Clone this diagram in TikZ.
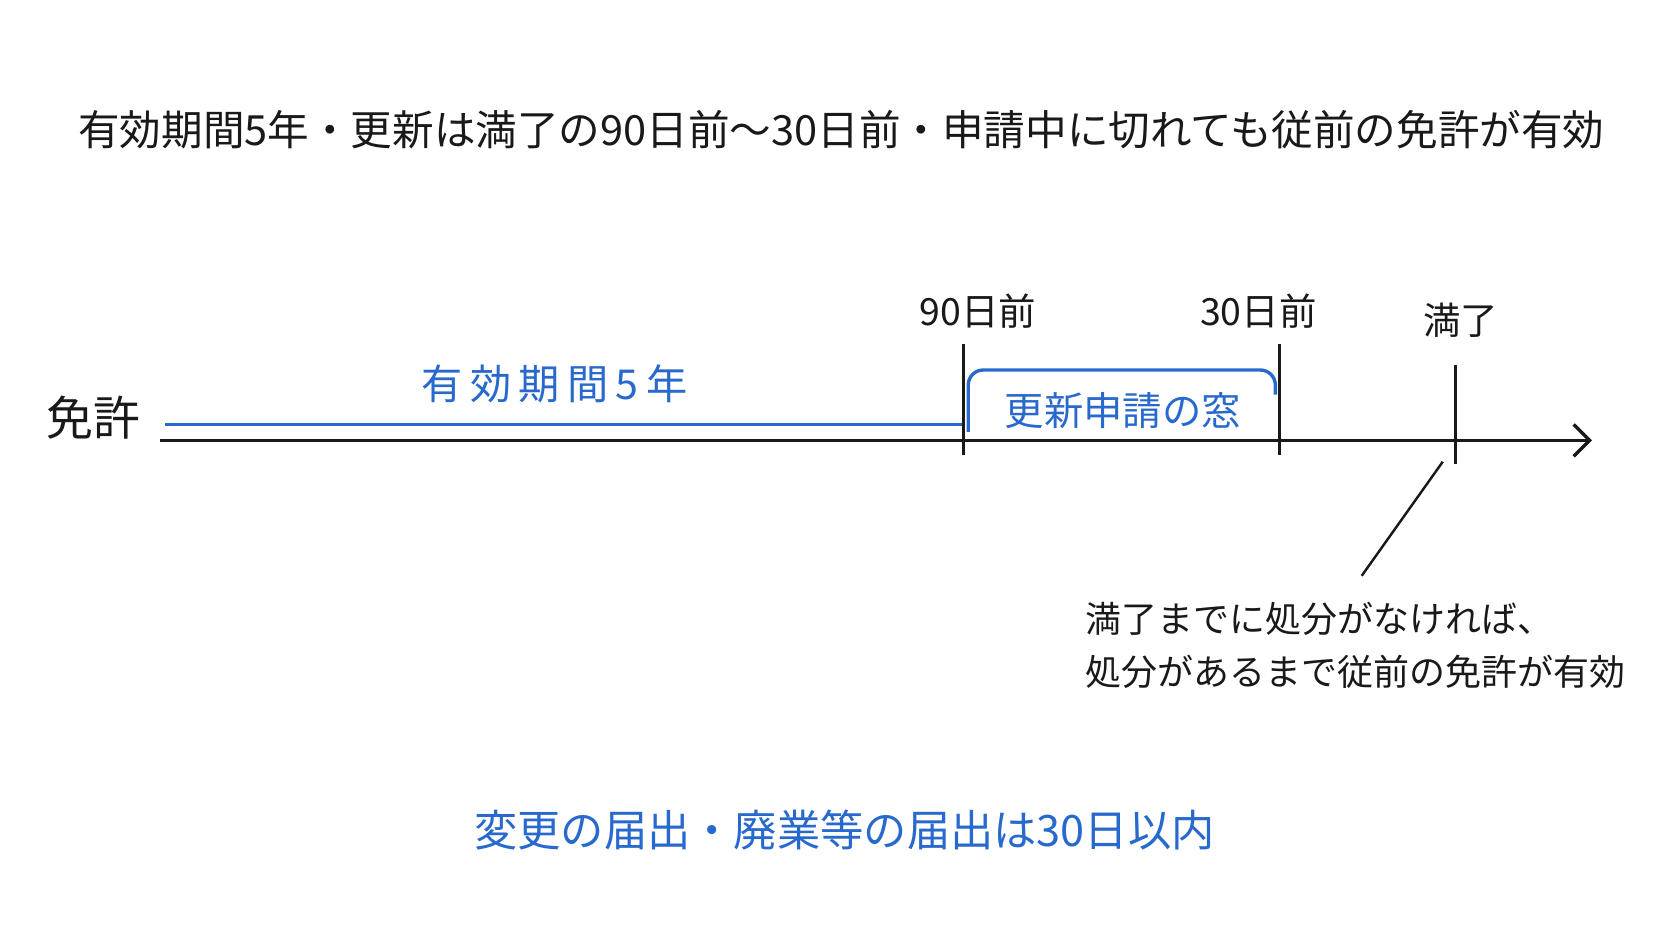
\documentclass[tikz,border=0pt]{standalone}
\usepackage{fontspec}
\setmainfont{Noto Sans CJK JP}
\usepackage{tikz}
\usetikzlibrary{arrows.meta}
\definecolor{penblue}{RGB}{40,105,205}
\definecolor{ink}{RGB}{25,25,25}
\tikzset{
  txt/.style={ink, font=\fontsize{20}{23}\selectfont},
  bluetxt/.style={penblue, font=\fontsize{20.5}{23}\selectfont},
  tick/.style={ink, line width=1.6pt},
  axis/.style={ink, line width=1.8pt, -{Straight Barb[length=3mm]}},
}
\begin{document}
\begin{tikzpicture}[x=0.02cm, y=-0.02cm]
  \useasboundingbox[fill=white] (0,0) rectangle (1568,882);
  % Title
  \node [txt, font=\fontsize{22.2}{26}\selectfont] (title) at (789,122) {有効期間5年・更新は満了の90日前～30日前・申請中に切れても従前の免許が有効};
  % Axis
  \node [ink, font=\fontsize{25}{28}\selectfont] (menkyo) at (88,392) {免許};
  \coordinate (start) at (150,413);
  \coordinate (end) at (1493,413);
  \draw [axis] (start) -- (end);
  \coordinate (b0) at (155,398);
  \coordinate (b1) at (903,398);
  \draw [penblue, line width=1.8pt] (b0) -- (b1);
  \node [bluetxt, font=\fontsize{22}{25}\addfontfeature{LetterSpace=18}] (period) at (520,360) {有効期間5年};
  % Ticks
  \coordinate (t90a) at (904,323); \coordinate (t90b) at (904,427);
  \coordinate (t30a) at (1200,323); \coordinate (t30b) at (1200,427);
  \coordinate (tea) at (1365,342); \coordinate (teb) at (1365,435);
  \draw [tick] (t90a) -- (t90b);
  \draw [tick] (t30a) -- (t30b);
  \draw [tick] (tea) -- (teb);
  \node [txt] (l90) at (917,292) {90日前};
  \node [txt] (l30) at (1180,292) {30日前};
  \node [txt] (lend) at (1370,300) {満了};
  % Window
  \draw [penblue, line width=1.8pt, rounded corners=8pt] (908,405) -- (908,347) -- (1196,347) -- (1196,370);
  \node [bluetxt, font=\fontsize{21}{25}\selectfont] (window) at (1053,385) {更新申請の窓};
  % Note
  \coordinate (n0) at (1353,433);
  \coordinate (n1) at (1277,540);
  \draw [ink, line width=1.3pt] (n0) -- (n1);
  \node [txt, anchor=west, align=left, font=\fontsize{19.2}{28}\selectfont] (note) at (1012,605)
    {満了までに処分がなければ、\\処分があるまで従前の免許が有効};
  % Bottom
  \node [bluetxt, font=\fontsize{23.1}{27}\selectfont] (bottom) at (792,778) {変更の届出・廃業等の届出は30日以内};
\end{tikzpicture}
\end{document}
